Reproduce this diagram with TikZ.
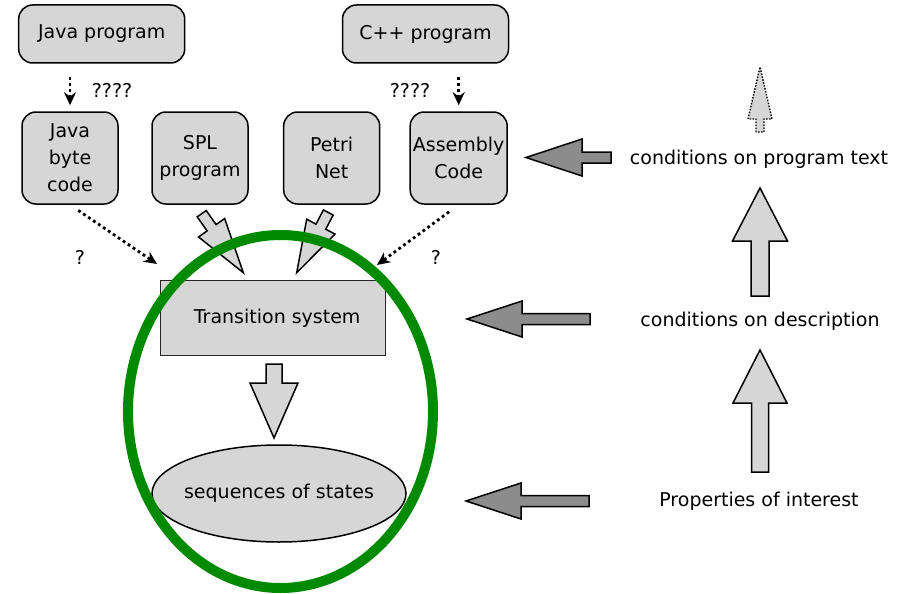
\documentclass[tikz,border=0pt]{standalone}
\usepackage{fontspec}
\setmainfont{DejaVu Sans}
\usetikzlibrary{calc,arrows.meta,shapes.geometric}

\definecolor{boxgray}{RGB}{214,214,214}
\definecolor{darkarrow}{RGB}{140,140,140}
\definecolor{ringgreen}{RGB}{0,138,0}

% Block arrow from #2 (tail) to #3 (tip):
% #4 shaft half width, #5 head half width, #6 head length
\newcommand\blockarrow[6]{%
  \coordinate (ba-base) at ($(#3)!#6!(#2)$);
  \path[#1] ($(#2)!#4!90:(#3)$) -- ($(ba-base)!#4!90:(#3)$)
    -- ($(ba-base)!#5!90:(#3)$) -- (#3)
    -- ($(ba-base)!#5!-90:(#3)$) -- ($(ba-base)!#4!-90:(#3)$)
    -- ($(#2)!#4!-90:(#3)$) -- cycle;
}

\begin{document}
\begin{tikzpicture}[x=1pt,y=-1pt,
  every node/.style={font=\fontsize{19}{27}\selectfont},
  rbox/.style={draw, line width=1.5pt, fill=boxgray, rounded corners=14pt,
    align=center, inner sep=0pt},
  dotarr/.style={line width=2.8pt, dash pattern=on 2.8pt off 3.2pt,
    -{Stealth[length=13pt,width=12pt]}},
  lightarr/.style={draw, line width=1.5pt, fill=boxgray},
  darkarr/.style={draw, line width=1.5pt, fill=darkarrow},
  ghostarr/.style={draw, line width=1.4pt, dash pattern=on 1.5pt off 1.5pt, fill=boxgray},
]
\useasboundingbox (0,0) rectangle (911,594);

% source programs
\node[rbox, minimum width=166pt, minimum height=58pt] (jp) at (101.7,34) {Java program};
\node[rbox, minimum width=166pt, minimum height=58pt] (cp) at (425.5,34) {C++ program};

% intermediate descriptions
\node[rbox, minimum width=96pt, minimum height=92pt] (jbc) at (70,158) {Java\\byte\\code};
\node[rbox, minimum width=96pt, minimum height=92pt] (spl) at (200,158) {SPL\\program};
\node[rbox, minimum width=96pt, minimum height=92pt] (pn)  at (331.7,158) {Petri\\Net};
\node[rbox, minimum width=97pt, minimum height=92pt] (asm) at (458.7,158) {Assembly\\Code};

% dotted translations
\draw[dotarr, shorten <=13pt, shorten >=6pt] (jp.south -| jbc.north) -- (jbc.north);
\draw[dotarr, shorten <=13pt, shorten >=6pt] (cp.south -| asm.north) -- (asm.north);
\node (q1) at (112,90) {????};
\node (q2) at (410,90) {????};

\coordinate (in1) at (157,264);
\coordinate (in2) at (377,265);
\draw[dotarr, shorten <=10pt] (jbc.south) -- (in1);
\draw[dotarr, shorten <=12pt] (asm.south) -- (in2);
\node (q3) at (80,257) {?};
\node (q4) at (436,257) {?};

% transition system and its runs
\node[draw=black!85, line width=1.5pt, fill=boxgray, minimum width=225pt,
  minimum height=75pt] (ts) at (273.2,318.2) {\hspace*{8pt}Transition system};
\node[ellipse, draw, line width=1.5pt, fill=boxgray, minimum width=254pt,
  minimum height=97pt, inner sep=0pt] (seq) at (279,493.5)
  {\makebox[0pt]{sequences of states}};

\coordinate (spl-t) at (201.7,213.7); \coordinate (spl-h) at (243.3,272.7);
\coordinate (pn-t)  at (328.3,212.5); \coordinate (pn-h)  at (296.7,272.7);
\coordinate (ts-t)  at (274,364);     \coordinate (ts-h)  at (274,438);
\blockarrow{lightarr}{spl-t}{spl-h}{5.5pt}{16pt}{55pt}
\blockarrow{lightarr}{pn-t}{pn-h}{5.5pt}{16pt}{52pt}
\blockarrow{lightarr}{ts-t}{ts-h}{8pt}{24pt}{55pt}

% levels of properties
\node (ct) at (759,159) {conditions on program text};
\node (cd) at (760,321) {conditions on description};
\node (pi) at (759,501) {Properties of interest};

\coordinate (l1-t) at (611,157.5); \coordinate (l1-h) at (526,157.5);
\coordinate (l2-t) at (590,319);   \coordinate (l2-h) at (467,319);
\coordinate (l3-t) at (589,501);   \coordinate (l3-h) at (466,501);
\blockarrow{darkarr}{l1-t}{l1-h}{5.5pt}{18.5pt}{56pt}
\blockarrow{darkarr}{l2-t}{l2-h}{5.5pt}{18pt}{55pt}
\blockarrow{darkarr}{l3-t}{l3-h}{5.5pt}{18pt}{55pt}

\coordinate (u1-t) at (760,296); \coordinate (u1-h) at (760,188);
\coordinate (u2-t) at (760,472); \coordinate (u2-h) at (760,350);
\coordinate (u3-t) at (760,132); \coordinate (u3-h) at (760,67);
\blockarrow{lightarr}{u1-t}{u1-h}{9pt}{27.5pt}{53pt}
\blockarrow{lightarr}{u2-t}{u2-h}{8.5pt}{27pt}{53pt}
\blockarrow{ghostarr}{u3-t}{u3-h}{4pt}{12pt}{52pt}

% highlighted region
\draw[ringgreen, line width=10pt] (280.5,411.5) ellipse [x radius=152.5pt, y radius=176.5pt];
\end{tikzpicture}
\end{document}
